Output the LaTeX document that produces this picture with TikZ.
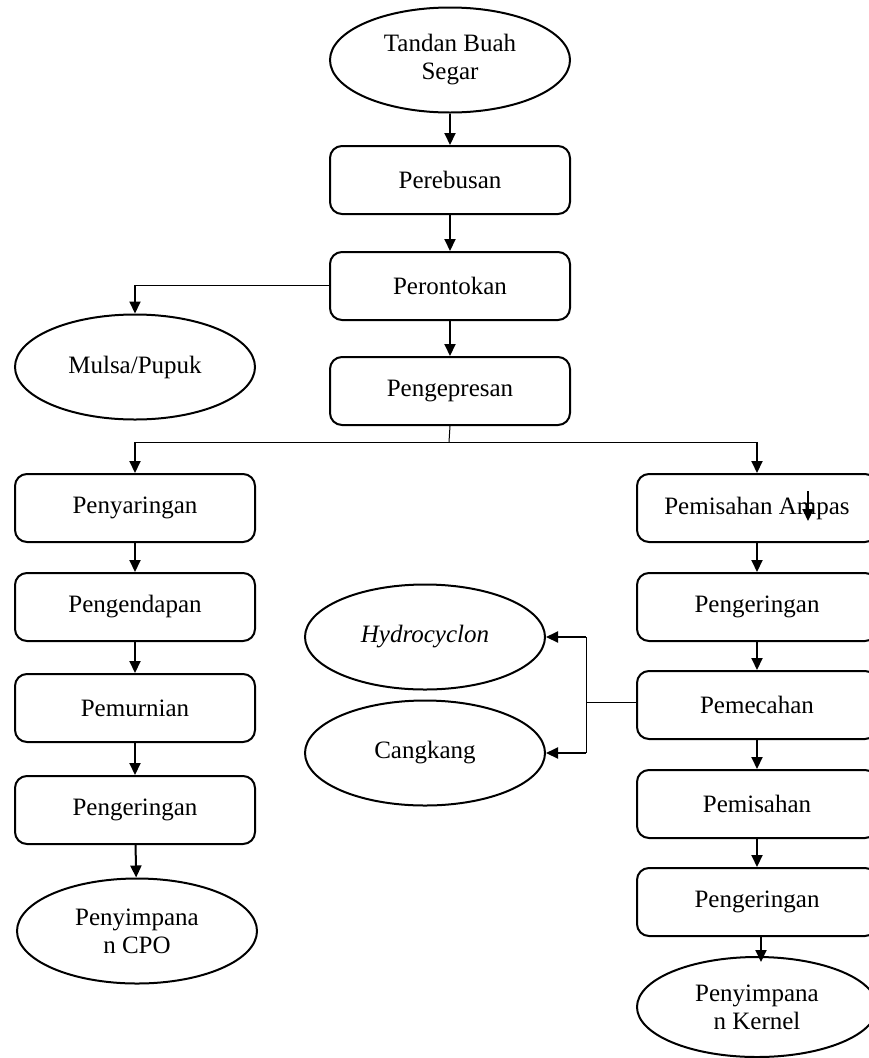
\documentclass[tikz,border=0pt]{standalone}
\usepackage{fontspec}
\setmainfont{Liberation Serif}
\usetikzlibrary{shapes.geometric,arrows.meta}
\begin{document}
\begin{tikzpicture}[x=1pt,y=-1pt,
  every node/.style={font=\fontsize{25}{28}\selectfont},
  box/.style={draw,line width=2pt,rounded corners=12pt,minimum width=240pt,minimum height=68pt,inner sep=0pt,align=center},
  oval/.style={draw,line width=2pt,ellipse,minimum width=240pt,minimum height=105pt,inner sep=0pt,align=center},
  arr/.style={line width=2pt,-{Triangle[length=12pt,width=11pt]}},
  thinline/.style={line width=1pt}]
\useasboundingbox (0,0) rectangle (869,1058);
% centre column
\node[oval] (tbs) at (450,60) {Tandan Buah\\Segar};
\node[box] (reb) at (450,180) {Perebusan};
\node[box] (ront) at (450,286) {Perontokan};
\node[box] (pres) at (450,391) {Pengepresan};
\node[oval] (mulsa) at (135,367) {Mulsa/Pupuk};
% left column
\node[box] (saring) at (135,508) {Penyaringan};
\node[box] (endap) at (135,607) {Pengendapan};
\node[box] (murni) at (135,708) {Pemurnian};
\node[box] (keringA) at (135,810) {Pengeringan};
\node[oval] (cpo) at (137,931) {Penyimpana\\n CPO};
% right column
\node[box] (ampas) at (757,508) {Pemisahan Ampas};
\node[box] (keringB) at (757,607) {Pengeringan};
\node[box] (pecah) at (757,705) {Pemecahan};
\node[box] (pisah) at (757,804) {Pemisahan};
\node[box] (keringC) at (757,902) {Pengeringan};
\node[oval,minimum height=100pt] (kernel) at (757,1007) {Penyimpana\\n Kernel};
\node[oval] (hydro) at (425,637) {\itshape Hydrocyclon};
\node[oval] (cang) at (425,753) {Cangkang};
% arrows
\draw[arr] (tbs) -- (reb);
\draw[arr] (reb) -- (ront);
\draw[arr] (ront) -- (pres);
\coordinate (m) at (135,285);
\draw[thinline] (ront.west |- m) -- (m);
\draw[arr] (m) -- (mulsa);
\coordinate (s) at (449,442);
\draw[thinline] (pres.south) -- (s);
\draw[thinline] (s -| saring) -- (s -| ampas);
\draw[arr] (s -| saring) -- (saring);
\draw[arr] (s -| ampas) -- (ampas);
\draw[arr] (saring) -- (endap);
\draw[arr] (endap) -- (murni);
\draw[arr] (murni) -- (keringA);
\draw[arr] (keringA) -- (cpo);
\draw[arr] (ampas) -- (keringB);
\draw[arr] (keringB) -- (pecah);
\draw[arr] (pecah) -- (pisah);
\draw[arr] (pisah) -- (keringC);
\coordinate (k1) at (761,937);
\coordinate (k2) at (761,962);
\draw[arr] (k1) -- (k2);
\coordinate (st1) at (808,491);
\coordinate (st2) at (808,521);
\draw[arr] (st1) -- (st2);
\coordinate (h) at (586,702);
\draw[thinline] (pecah.west |- h) -- (h);
\draw[thinline] (586,637) -- (586,753);
\draw[arr] (586,637) -- (hydro.east);
\draw[arr] (586,753) -- (cang.east);
\end{tikzpicture}
\end{document}
